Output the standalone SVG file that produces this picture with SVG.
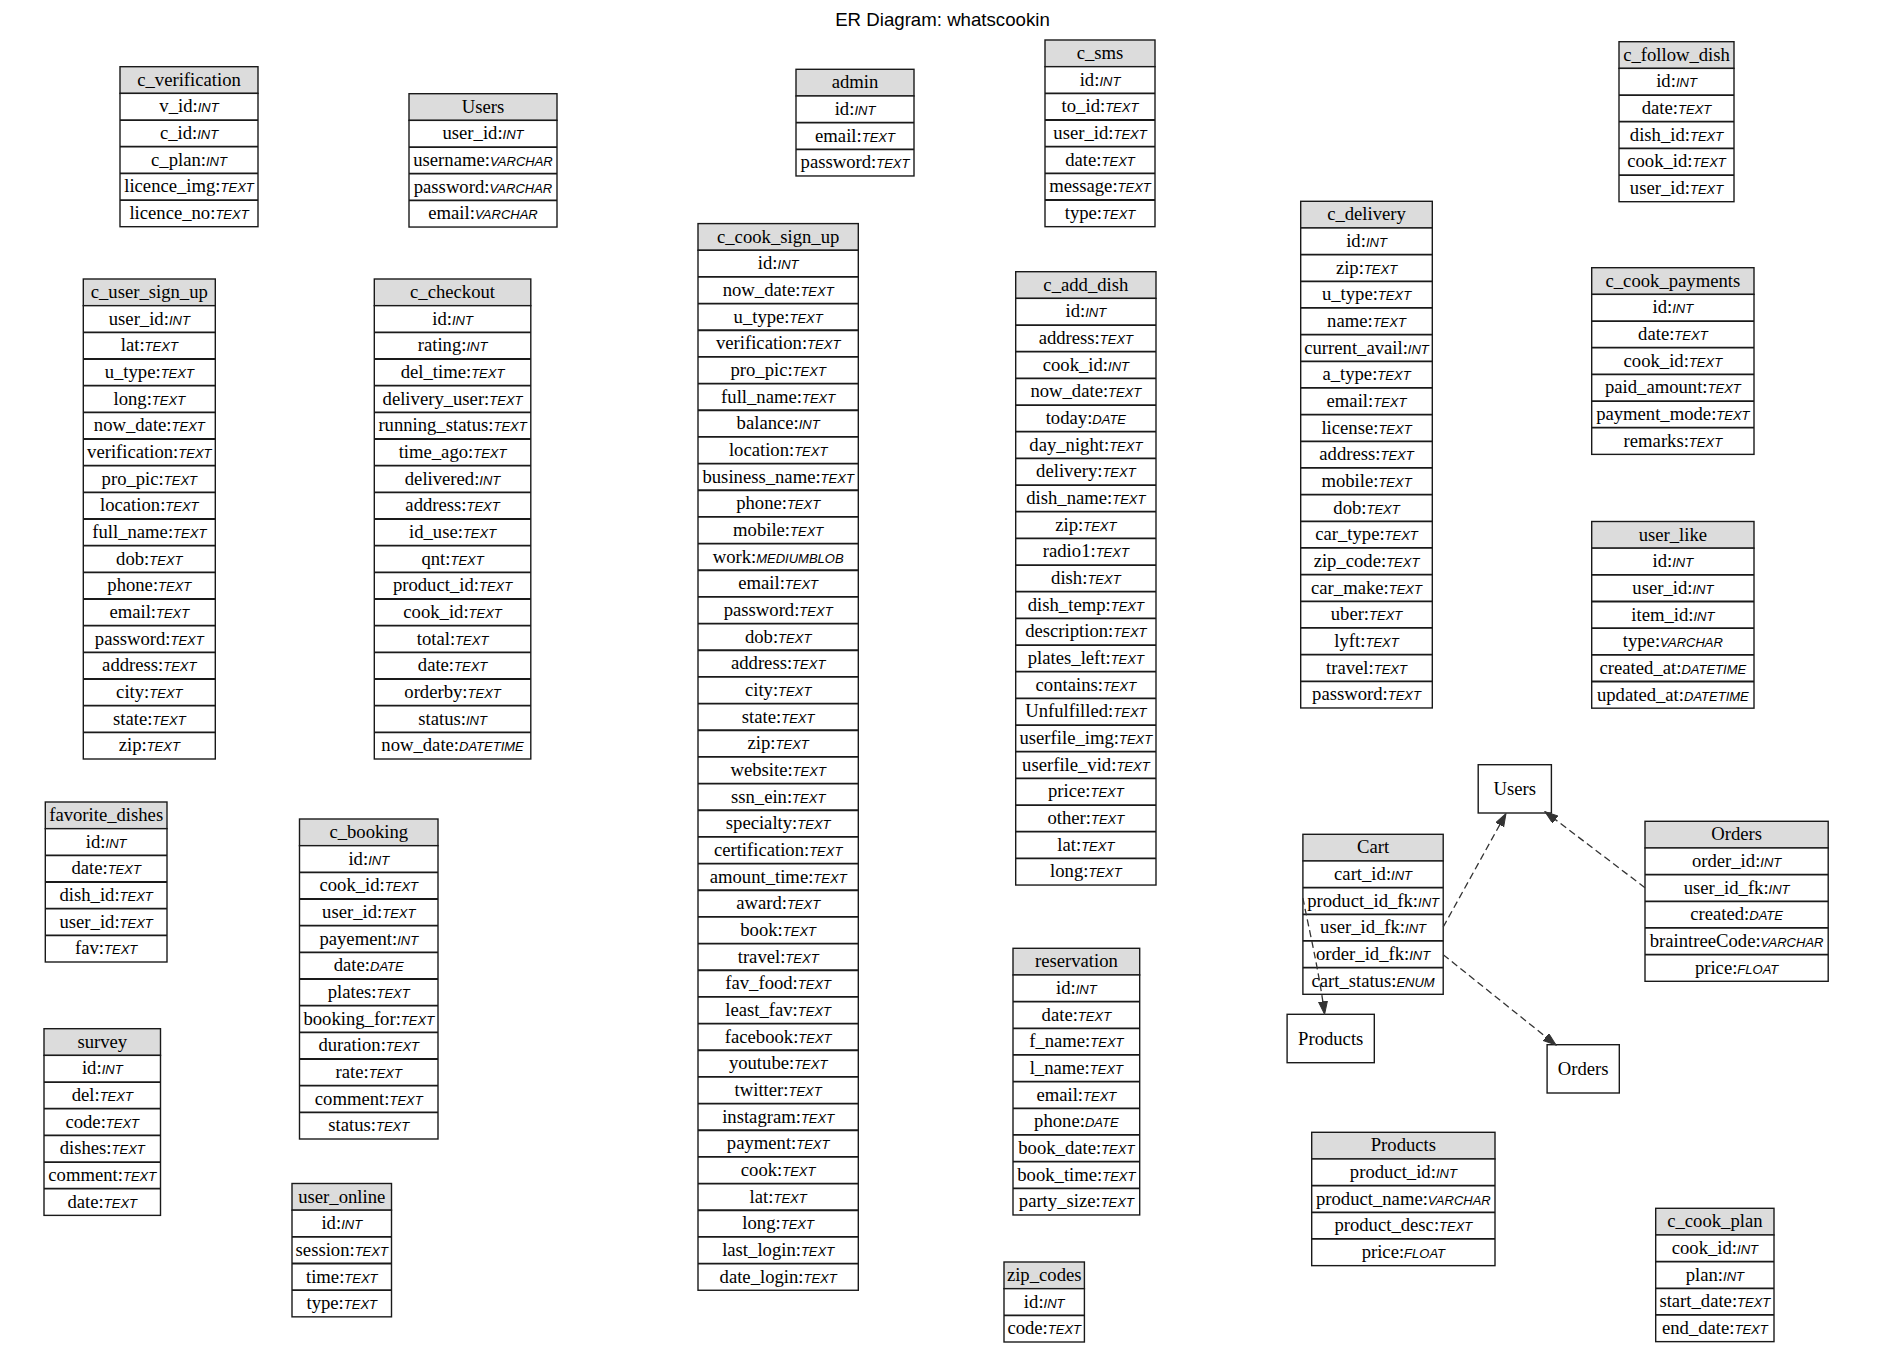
<svg xmlns="http://www.w3.org/2000/svg" width="1885" height="1352" viewBox="0 0 1885 1352">
<style>
text{font-family:"Liberation Serif","Times New Roman",serif;font-size:18.67px;text-anchor:middle;fill:#000}
.t{font-family:"Liberation Sans",Arial,sans-serif;font-style:italic;font-size:13px}
.title{font-family:"Liberation Sans",Arial,sans-serif;font-size:18.67px}
.h{fill:#dcdcdc;stroke:#1a1a1a;stroke-width:1.4}
.r{fill:#fff;stroke:#1a1a1a;stroke-width:1.4}
.s{fill:none;stroke:#1a1a1a;stroke-width:1.8}
.n{fill:#fff;stroke:#1a1a1a;stroke-width:1.4}
.e{fill:none;stroke:#333;stroke-width:1.3;stroke-dasharray:7,4}
</style>
<defs>
<marker id="arr" markerUnits="userSpaceOnUse" markerWidth="14" markerHeight="10" refX="13" refY="4.5" orient="auto">
<path d="M0,0L13,4.5L0,9z" fill="#333" stroke="#333" stroke-width="1"/>
</marker>
</defs>
<rect width="1885" height="1352" fill="#fff"/>
<text class="title" x="942.5" y="25.5">ER Diagram: whatscookin</text>

<g id="c_verification" transform="translate(120,66.7)">
<rect class="h" width="138" height="26.67"/><rect class="r" y="26.67" width="138" height="133.33"/>
<path class="s" d="M0,53.33H138M0,80H138M0,106.67H138M0,133.33H138"/>
<g transform="translate(69,0)">
<text y="19">c_verification</text>
<text y="45.67">v_id:<tspan class="t">INT</tspan></text>
<text y="72.33">c_id:<tspan class="t">INT</tspan></text>
<text y="99">c_plan:<tspan class="t">INT</tspan></text>
<text y="125.67">licence_img:<tspan class="t">TEXT</tspan></text>
<text y="152.33">licence_no:<tspan class="t">TEXT</tspan></text>
</g></g>

<g id="Users" transform="translate(409,93.7)">
<rect class="h" width="148" height="26.67"/><rect class="r" y="26.67" width="148" height="106.67"/>
<path class="s" d="M0,53.33H148M0,80H148M0,106.67H148"/>
<g transform="translate(74,0)">
<text y="19">Users</text>
<text y="45.67">user_id:<tspan class="t">INT</tspan></text>
<text y="72.33">username:<tspan class="t">VARCHAR</tspan></text>
<text y="99">password:<tspan class="t">VARCHAR</tspan></text>
<text y="125.67">email:<tspan class="t">VARCHAR</tspan></text>
</g></g>

<g id="admin" transform="translate(796,69.3)">
<rect class="h" width="118" height="26.67"/><rect class="r" y="26.67" width="118" height="80"/>
<path class="s" d="M0,53.33H118M0,80H118"/>
<g transform="translate(59,0)">
<text y="19">admin</text>
<text y="45.67">id:<tspan class="t">INT</tspan></text>
<text y="72.33">email:<tspan class="t">TEXT</tspan></text>
<text y="99">password:<tspan class="t">TEXT</tspan></text>
</g></g>

<g id="c_sms" transform="translate(1045,40)">
<rect class="h" width="110" height="26.67"/><rect class="r" y="26.67" width="110" height="160"/>
<path class="s" d="M0,53.33H110M0,80H110M0,106.67H110M0,133.33H110M0,160H110"/>
<g transform="translate(55,0)">
<text y="19">c_sms</text>
<text y="45.67">id:<tspan class="t">INT</tspan></text>
<text y="72.33">to_id:<tspan class="t">TEXT</tspan></text>
<text y="99">user_id:<tspan class="t">TEXT</tspan></text>
<text y="125.67">date:<tspan class="t">TEXT</tspan></text>
<text y="152.33">message:<tspan class="t">TEXT</tspan></text>
<text y="179">type:<tspan class="t">TEXT</tspan></text>
</g></g>

<g id="c_follow_dish" transform="translate(1619,41.7)">
<rect class="h" width="115" height="26.67"/><rect class="r" y="26.67" width="115" height="133.33"/>
<path class="s" d="M0,53.33H115M0,80H115M0,106.67H115M0,133.33H115"/>
<g transform="translate(57.5,0)">
<text y="19">c_follow_dish</text>
<text y="45.67">id:<tspan class="t">INT</tspan></text>
<text y="72.33">date:<tspan class="t">TEXT</tspan></text>
<text y="99">dish_id:<tspan class="t">TEXT</tspan></text>
<text y="125.67">cook_id:<tspan class="t">TEXT</tspan></text>
<text y="152.33">user_id:<tspan class="t">TEXT</tspan></text>
</g></g>

<g id="c_user_sign_up" transform="translate(83.3,279)">
<rect class="h" width="132" height="26.67"/><rect class="r" y="26.67" width="132" height="453.33"/>
<path class="s" d="M0,53.33H132M0,80H132M0,106.67H132M0,133.33H132M0,160H132M0,186.67H132M0,213.33H132M0,240H132M0,266.67H132M0,293.33H132M0,320H132M0,346.67H132M0,373.33H132M0,400H132M0,426.67H132M0,453.33H132"/>
<g transform="translate(66,0)">
<text y="19">c_user_sign_up</text>
<text y="45.67">user_id:<tspan class="t">INT</tspan></text>
<text y="72.33">lat:<tspan class="t">TEXT</tspan></text>
<text y="99">u_type:<tspan class="t">TEXT</tspan></text>
<text y="125.67">long:<tspan class="t">TEXT</tspan></text>
<text y="152.33">now_date:<tspan class="t">TEXT</tspan></text>
<text y="179">verification:<tspan class="t">TEXT</tspan></text>
<text y="205.67">pro_pic:<tspan class="t">TEXT</tspan></text>
<text y="232.33">location:<tspan class="t">TEXT</tspan></text>
<text y="259">full_name:<tspan class="t">TEXT</tspan></text>
<text y="285.67">dob:<tspan class="t">TEXT</tspan></text>
<text y="312.33">phone:<tspan class="t">TEXT</tspan></text>
<text y="339">email:<tspan class="t">TEXT</tspan></text>
<text y="365.67">password:<tspan class="t">TEXT</tspan></text>
<text y="392.33">address:<tspan class="t">TEXT</tspan></text>
<text y="419">city:<tspan class="t">TEXT</tspan></text>
<text y="445.67">state:<tspan class="t">TEXT</tspan></text>
<text y="472.33">zip:<tspan class="t">TEXT</tspan></text>
</g></g>

<g id="c_checkout" transform="translate(374.3,279)">
<rect class="h" width="156.5" height="26.67"/><rect class="r" y="26.67" width="156.5" height="453.33"/>
<path class="s" d="M0,53.33H156.5M0,80H156.5M0,106.67H156.5M0,133.33H156.5M0,160H156.5M0,186.67H156.5M0,213.33H156.5M0,240H156.5M0,266.67H156.5M0,293.33H156.5M0,320H156.5M0,346.67H156.5M0,373.33H156.5M0,400H156.5M0,426.67H156.5M0,453.33H156.5"/>
<g transform="translate(78.25,0)">
<text y="19">c_checkout</text>
<text y="45.67">id:<tspan class="t">INT</tspan></text>
<text y="72.33">rating:<tspan class="t">INT</tspan></text>
<text y="99">del_time:<tspan class="t">TEXT</tspan></text>
<text y="125.67">delivery_user:<tspan class="t">TEXT</tspan></text>
<text y="152.33">running_status:<tspan class="t">TEXT</tspan></text>
<text y="179">time_ago:<tspan class="t">TEXT</tspan></text>
<text y="205.67">delivered:<tspan class="t">INT</tspan></text>
<text y="232.33">address:<tspan class="t">TEXT</tspan></text>
<text y="259">id_use:<tspan class="t">TEXT</tspan></text>
<text y="285.67">qnt:<tspan class="t">TEXT</tspan></text>
<text y="312.33">product_id:<tspan class="t">TEXT</tspan></text>
<text y="339">cook_id:<tspan class="t">TEXT</tspan></text>
<text y="365.67">total:<tspan class="t">TEXT</tspan></text>
<text y="392.33">date:<tspan class="t">TEXT</tspan></text>
<text y="419">orderby:<tspan class="t">TEXT</tspan></text>
<text y="445.67">status:<tspan class="t">INT</tspan></text>
<text y="472.33">now_date:<tspan class="t">DATETIME</tspan></text>
</g></g>

<g id="c_cook_sign_up" transform="translate(698,223.6)">
<rect class="h" width="160.3" height="26.67"/><rect class="r" y="26.67" width="160.3" height="1040"/>
<path class="s" d="M0,53.33H160.3M0,80H160.3M0,106.67H160.3M0,133.33H160.3M0,160H160.3M0,186.67H160.3M0,213.33H160.3M0,240H160.3M0,266.67H160.3M0,293.33H160.3M0,320H160.3M0,346.67H160.3M0,373.33H160.3M0,400H160.3M0,426.67H160.3M0,453.33H160.3M0,480H160.3M0,506.67H160.3M0,533.33H160.3M0,560H160.3M0,586.67H160.3M0,613.33H160.3M0,640H160.3M0,666.67H160.3M0,693.33H160.3M0,720H160.3M0,746.67H160.3M0,773.33H160.3M0,800H160.3M0,826.67H160.3M0,853.33H160.3M0,880H160.3M0,906.67H160.3M0,933.33H160.3M0,960H160.3M0,986.67H160.3M0,1013.33H160.3M0,1040H160.3"/>
<g transform="translate(80.15,0)">
<text y="19">c_cook_sign_up</text>
<text y="45.67">id:<tspan class="t">INT</tspan></text>
<text y="72.33">now_date:<tspan class="t">TEXT</tspan></text>
<text y="99">u_type:<tspan class="t">TEXT</tspan></text>
<text y="125.67">verification:<tspan class="t">TEXT</tspan></text>
<text y="152.33">pro_pic:<tspan class="t">TEXT</tspan></text>
<text y="179">full_name:<tspan class="t">TEXT</tspan></text>
<text y="205.67">balance:<tspan class="t">INT</tspan></text>
<text y="232.33">location:<tspan class="t">TEXT</tspan></text>
<text y="259">business_name:<tspan class="t">TEXT</tspan></text>
<text y="285.67">phone:<tspan class="t">TEXT</tspan></text>
<text y="312.33">mobile:<tspan class="t">TEXT</tspan></text>
<text y="339">work:<tspan class="t">MEDIUMBLOB</tspan></text>
<text y="365.67">email:<tspan class="t">TEXT</tspan></text>
<text y="392.33">password:<tspan class="t">TEXT</tspan></text>
<text y="419">dob:<tspan class="t">TEXT</tspan></text>
<text y="445.67">address:<tspan class="t">TEXT</tspan></text>
<text y="472.33">city:<tspan class="t">TEXT</tspan></text>
<text y="499">state:<tspan class="t">TEXT</tspan></text>
<text y="525.67">zip:<tspan class="t">TEXT</tspan></text>
<text y="552.33">website:<tspan class="t">TEXT</tspan></text>
<text y="579">ssn_ein:<tspan class="t">TEXT</tspan></text>
<text y="605.67">specialty:<tspan class="t">TEXT</tspan></text>
<text y="632.33">certification:<tspan class="t">TEXT</tspan></text>
<text y="659">amount_time:<tspan class="t">TEXT</tspan></text>
<text y="685.67">award:<tspan class="t">TEXT</tspan></text>
<text y="712.33">book:<tspan class="t">TEXT</tspan></text>
<text y="739">travel:<tspan class="t">TEXT</tspan></text>
<text y="765.67">fav_food:<tspan class="t">TEXT</tspan></text>
<text y="792.33">least_fav:<tspan class="t">TEXT</tspan></text>
<text y="819">facebook:<tspan class="t">TEXT</tspan></text>
<text y="845.67">youtube:<tspan class="t">TEXT</tspan></text>
<text y="872.33">twitter:<tspan class="t">TEXT</tspan></text>
<text y="899">instagram:<tspan class="t">TEXT</tspan></text>
<text y="925.67">payment:<tspan class="t">TEXT</tspan></text>
<text y="952.33">cook:<tspan class="t">TEXT</tspan></text>
<text y="979">lat:<tspan class="t">TEXT</tspan></text>
<text y="1005.67">long:<tspan class="t">TEXT</tspan></text>
<text y="1032.33">last_login:<tspan class="t">TEXT</tspan></text>
<text y="1059">date_login:<tspan class="t">TEXT</tspan></text>
</g></g>

<g id="c_add_dish" transform="translate(1015.7,271.7)">
<rect class="h" width="140.3" height="26.67"/><rect class="r" y="26.67" width="140.3" height="586.67"/>
<path class="s" d="M0,53.33H140.3M0,80H140.3M0,106.67H140.3M0,133.33H140.3M0,160H140.3M0,186.67H140.3M0,213.33H140.3M0,240H140.3M0,266.67H140.3M0,293.33H140.3M0,320H140.3M0,346.67H140.3M0,373.33H140.3M0,400H140.3M0,426.67H140.3M0,453.33H140.3M0,480H140.3M0,506.67H140.3M0,533.33H140.3M0,560H140.3M0,586.67H140.3"/>
<g transform="translate(70.15,0)">
<text y="19">c_add_dish</text>
<text y="45.67">id:<tspan class="t">INT</tspan></text>
<text y="72.33">address:<tspan class="t">TEXT</tspan></text>
<text y="99">cook_id:<tspan class="t">INT</tspan></text>
<text y="125.67">now_date:<tspan class="t">TEXT</tspan></text>
<text y="152.33">today:<tspan class="t">DATE</tspan></text>
<text y="179">day_night:<tspan class="t">TEXT</tspan></text>
<text y="205.67">delivery:<tspan class="t">TEXT</tspan></text>
<text y="232.33">dish_name:<tspan class="t">TEXT</tspan></text>
<text y="259">zip:<tspan class="t">TEXT</tspan></text>
<text y="285.67">radio1:<tspan class="t">TEXT</tspan></text>
<text y="312.33">dish:<tspan class="t">TEXT</tspan></text>
<text y="339">dish_temp:<tspan class="t">TEXT</tspan></text>
<text y="365.67">description:<tspan class="t">TEXT</tspan></text>
<text y="392.33">plates_left:<tspan class="t">TEXT</tspan></text>
<text y="419">contains:<tspan class="t">TEXT</tspan></text>
<text y="445.67">Unfulfilled:<tspan class="t">TEXT</tspan></text>
<text y="472.33">userfile_img:<tspan class="t">TEXT</tspan></text>
<text y="499">userfile_vid:<tspan class="t">TEXT</tspan></text>
<text y="525.67">price:<tspan class="t">TEXT</tspan></text>
<text y="552.33">other:<tspan class="t">TEXT</tspan></text>
<text y="579">lat:<tspan class="t">TEXT</tspan></text>
<text y="605.67">long:<tspan class="t">TEXT</tspan></text>
</g></g>

<g id="c_delivery" transform="translate(1300.7,201.3)">
<rect class="h" width="131.6" height="26.67"/><rect class="r" y="26.67" width="131.6" height="480"/>
<path class="s" d="M0,53.33H131.6M0,80H131.6M0,106.67H131.6M0,133.33H131.6M0,160H131.6M0,186.67H131.6M0,213.33H131.6M0,240H131.6M0,266.67H131.6M0,293.33H131.6M0,320H131.6M0,346.67H131.6M0,373.33H131.6M0,400H131.6M0,426.67H131.6M0,453.33H131.6M0,480H131.6"/>
<g transform="translate(65.8,0)">
<text y="19">c_delivery</text>
<text y="45.67">id:<tspan class="t">INT</tspan></text>
<text y="72.33">zip:<tspan class="t">TEXT</tspan></text>
<text y="99">u_type:<tspan class="t">TEXT</tspan></text>
<text y="125.67">name:<tspan class="t">TEXT</tspan></text>
<text y="152.33">current_avail:<tspan class="t">INT</tspan></text>
<text y="179">a_type:<tspan class="t">TEXT</tspan></text>
<text y="205.67">email:<tspan class="t">TEXT</tspan></text>
<text y="232.33">license:<tspan class="t">TEXT</tspan></text>
<text y="259">address:<tspan class="t">TEXT</tspan></text>
<text y="285.67">mobile:<tspan class="t">TEXT</tspan></text>
<text y="312.33">dob:<tspan class="t">TEXT</tspan></text>
<text y="339">car_type:<tspan class="t">TEXT</tspan></text>
<text y="365.67">zip_code:<tspan class="t">TEXT</tspan></text>
<text y="392.33">car_make:<tspan class="t">TEXT</tspan></text>
<text y="419">uber:<tspan class="t">TEXT</tspan></text>
<text y="445.67">lyft:<tspan class="t">TEXT</tspan></text>
<text y="472.33">travel:<tspan class="t">TEXT</tspan></text>
<text y="499">password:<tspan class="t">TEXT</tspan></text>
</g></g>

<g id="c_cook_payments" transform="translate(1591.7,267.7)">
<rect class="h" width="162.3" height="26.67"/><rect class="r" y="26.67" width="162.3" height="160"/>
<path class="s" d="M0,53.33H162.3M0,80H162.3M0,106.67H162.3M0,133.33H162.3M0,160H162.3"/>
<g transform="translate(81.15,0)">
<text y="19">c_cook_payments</text>
<text y="45.67">id:<tspan class="t">INT</tspan></text>
<text y="72.33">date:<tspan class="t">TEXT</tspan></text>
<text y="99">cook_id:<tspan class="t">TEXT</tspan></text>
<text y="125.67">paid_amount:<tspan class="t">TEXT</tspan></text>
<text y="152.33">payment_mode:<tspan class="t">TEXT</tspan></text>
<text y="179">remarks:<tspan class="t">TEXT</tspan></text>
</g></g>

<g id="user_like" transform="translate(1591.7,521.5)">
<rect class="h" width="162.3" height="26.67"/><rect class="r" y="26.67" width="162.3" height="160"/>
<path class="s" d="M0,53.33H162.3M0,80H162.3M0,106.67H162.3M0,133.33H162.3M0,160H162.3"/>
<g transform="translate(81.15,0)">
<text y="19">user_like</text>
<text y="45.67">id:<tspan class="t">INT</tspan></text>
<text y="72.33">user_id:<tspan class="t">INT</tspan></text>
<text y="99">item_id:<tspan class="t">INT</tspan></text>
<text y="125.67">type:<tspan class="t">VARCHAR</tspan></text>
<text y="152.33">created_at:<tspan class="t">DATETIME</tspan></text>
<text y="179">updated_at:<tspan class="t">DATETIME</tspan></text>
</g></g>

<g id="favorite_dishes" transform="translate(45.3,802)">
<rect class="h" width="121.7" height="26.67"/><rect class="r" y="26.67" width="121.7" height="133.33"/>
<path class="s" d="M0,53.33H121.7M0,80H121.7M0,106.67H121.7M0,133.33H121.7"/>
<g transform="translate(60.85,0)">
<text y="19">favorite_dishes</text>
<text y="45.67">id:<tspan class="t">INT</tspan></text>
<text y="72.33">date:<tspan class="t">TEXT</tspan></text>
<text y="99">dish_id:<tspan class="t">TEXT</tspan></text>
<text y="125.67">user_id:<tspan class="t">TEXT</tspan></text>
<text y="152.33">fav:<tspan class="t">TEXT</tspan></text>
</g></g>

<g id="c_booking" transform="translate(299.5,819)">
<rect class="h" width="138.5" height="26.67"/><rect class="r" y="26.67" width="138.5" height="293.33"/>
<path class="s" d="M0,53.33H138.5M0,80H138.5M0,106.67H138.5M0,133.33H138.5M0,160H138.5M0,186.67H138.5M0,213.33H138.5M0,240H138.5M0,266.67H138.5M0,293.33H138.5"/>
<g transform="translate(69.25,0)">
<text y="19">c_booking</text>
<text y="45.67">id:<tspan class="t">INT</tspan></text>
<text y="72.33">cook_id:<tspan class="t">TEXT</tspan></text>
<text y="99">user_id:<tspan class="t">TEXT</tspan></text>
<text y="125.67">payement:<tspan class="t">INT</tspan></text>
<text y="152.33">date:<tspan class="t">DATE</tspan></text>
<text y="179">plates:<tspan class="t">TEXT</tspan></text>
<text y="205.67">booking_for:<tspan class="t">TEXT</tspan></text>
<text y="232.33">duration:<tspan class="t">TEXT</tspan></text>
<text y="259">rate:<tspan class="t">TEXT</tspan></text>
<text y="285.67">comment:<tspan class="t">TEXT</tspan></text>
<text y="312.33">status:<tspan class="t">TEXT</tspan></text>
</g></g>

<g id="survey" transform="translate(44,1028.7)">
<rect class="h" width="116.5" height="26.67"/><rect class="r" y="26.67" width="116.5" height="160"/>
<path class="s" d="M0,53.33H116.5M0,80H116.5M0,106.67H116.5M0,133.33H116.5M0,160H116.5"/>
<g transform="translate(58.25,0)">
<text y="19">survey</text>
<text y="45.67">id:<tspan class="t">INT</tspan></text>
<text y="72.33">del:<tspan class="t">TEXT</tspan></text>
<text y="99">code:<tspan class="t">TEXT</tspan></text>
<text y="125.67">dishes:<tspan class="t">TEXT</tspan></text>
<text y="152.33">comment:<tspan class="t">TEXT</tspan></text>
<text y="179">date:<tspan class="t">TEXT</tspan></text>
</g></g>

<g id="user_online" transform="translate(292,1183.5)">
<rect class="h" width="99.5" height="26.67"/><rect class="r" y="26.67" width="99.5" height="106.67"/>
<path class="s" d="M0,53.33H99.5M0,80H99.5M0,106.67H99.5"/>
<g transform="translate(49.75,0)">
<text y="19">user_online</text>
<text y="45.67">id:<tspan class="t">INT</tspan></text>
<text y="72.33">session:<tspan class="t">TEXT</tspan></text>
<text y="99">time:<tspan class="t">TEXT</tspan></text>
<text y="125.67">type:<tspan class="t">TEXT</tspan></text>
</g></g>

<g id="reservation" transform="translate(1013,948.3)">
<rect class="h" width="126.7" height="26.67"/><rect class="r" y="26.67" width="126.7" height="240"/>
<path class="s" d="M0,53.33H126.7M0,80H126.7M0,106.67H126.7M0,133.33H126.7M0,160H126.7M0,186.67H126.7M0,213.33H126.7M0,240H126.7"/>
<g transform="translate(63.35,0)">
<text y="19">reservation</text>
<text y="45.67">id:<tspan class="t">INT</tspan></text>
<text y="72.33">date:<tspan class="t">TEXT</tspan></text>
<text y="99">f_name:<tspan class="t">TEXT</tspan></text>
<text y="125.67">l_name:<tspan class="t">TEXT</tspan></text>
<text y="152.33">email:<tspan class="t">TEXT</tspan></text>
<text y="179">phone:<tspan class="t">DATE</tspan></text>
<text y="205.67">book_date:<tspan class="t">TEXT</tspan></text>
<text y="232.33">book_time:<tspan class="t">TEXT</tspan></text>
<text y="259">party_size:<tspan class="t">TEXT</tspan></text>
</g></g>

<g id="zip_codes" transform="translate(1004,1262)">
<rect class="h" width="80.4" height="26.67"/><rect class="r" y="26.67" width="80.4" height="53.33"/>
<path class="s" d="M0,53.33H80.4"/>
<g transform="translate(40.2,0)">
<text y="19">zip_codes</text>
<text y="45.67">id:<tspan class="t">INT</tspan></text>
<text y="72.33">code:<tspan class="t">TEXT</tspan></text>
</g></g>

<g id="Products_table" transform="translate(1311.7,1132.3)">
<rect class="h" width="183.3" height="26.67"/><rect class="r" y="26.67" width="183.3" height="106.67"/>
<path class="s" d="M0,53.33H183.3M0,80H183.3M0,106.67H183.3"/>
<g transform="translate(91.65,0)">
<text y="19">Products</text>
<text y="45.67">product_id:<tspan class="t">INT</tspan></text>
<text y="72.33">product_name:<tspan class="t">VARCHAR</tspan></text>
<text y="99">product_desc:<tspan class="t">TEXT</tspan></text>
<text y="125.67">price:<tspan class="t">FLOAT</tspan></text>
</g></g>

<g id="c_cook_plan" transform="translate(1655.7,1208.3)">
<rect class="h" width="118.3" height="26.67"/><rect class="r" y="26.67" width="118.3" height="106.67"/>
<path class="s" d="M0,53.33H118.3M0,80H118.3M0,106.67H118.3"/>
<g transform="translate(59.15,0)">
<text y="19">c_cook_plan</text>
<text y="45.67">cook_id:<tspan class="t">INT</tspan></text>
<text y="72.33">plan:<tspan class="t">INT</tspan></text>
<text y="99">start_date:<tspan class="t">TEXT</tspan></text>
<text y="125.67">end_date:<tspan class="t">TEXT</tspan></text>
</g></g>

<g id="Cart" transform="translate(1302.9,834.3)">
<rect class="h" width="140.3" height="26.67"/><rect class="r" y="26.67" width="140.3" height="133.33"/>
<path class="s" d="M0,53.33H140.3M0,80H140.3M0,106.67H140.3M0,133.33H140.3"/>
<g transform="translate(70.15,0)">
<text y="19">Cart</text>
<text y="45.67">cart_id:<tspan class="t">INT</tspan></text>
<text y="72.33">product_id_fk:<tspan class="t">INT</tspan></text>
<text y="99">user_id_fk:<tspan class="t">INT</tspan></text>
<text y="125.67">order_id_fk:<tspan class="t">INT</tspan></text>
<text y="152.33">cart_status:<tspan class="t">ENUM</tspan></text>
</g></g>

<g id="Orders_table" transform="translate(1645,821.3)">
<rect class="h" width="183.2" height="26.67"/><rect class="r" y="26.67" width="183.2" height="133.33"/>
<path class="s" d="M0,53.33H183.2M0,80H183.2M0,106.67H183.2M0,133.33H183.2"/>
<g transform="translate(91.6,0)">
<text y="19">Orders</text>
<text y="45.67">order_id:<tspan class="t">INT</tspan></text>
<text y="72.33">user_id_fk:<tspan class="t">INT</tspan></text>
<text y="99">created:<tspan class="t">DATE</tspan></text>
<text y="125.67">braintreeCode:<tspan class="t">VARCHAR</tspan></text>
<text y="152.33">price:<tspan class="t">FLOAT</tspan></text>
</g></g>

<g id="Users_ref">
<rect class="n" x="1478.2" y="764.7" width="73.2" height="48.3"/>
<text x="1514.8" y="795">Users</text>
</g>
<g id="Products_ref">
<rect class="n" x="1287.1" y="1014.3" width="87.2" height="48.4"/>
<text x="1330.7" y="1044.7">Products</text>
</g>
<g id="Orders_ref">
<rect class="n" x="1547.1" y="1044.7" width="72.2" height="48.3"/>
<text x="1583.2" y="1075">Orders</text>
</g>

<g id="connectors">
<path class="e" d="M1443.2,927L1506,813.5" marker-end="url(#arr)"/>
<path class="e" d="M1645,887.7L1545,811.7" marker-end="url(#arr)"/>
<path class="e" d="M1443.2,954.7L1556,1045" marker-end="url(#arr)"/>
<path class="e" d="M1302.9,898C1308,925 1319,970 1324.6,1014.3" marker-end="url(#arr)"/>
</g>
</svg>
